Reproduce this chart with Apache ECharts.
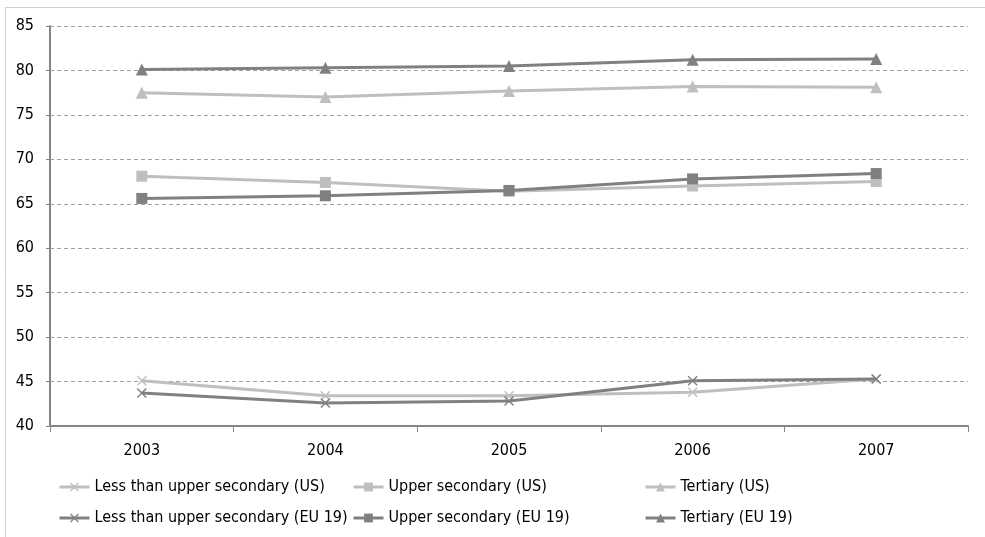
<!DOCTYPE html>
<html><head><meta charset="utf-8">
<script src="https://cdn.jsdelivr.net/npm/echarts@6/dist/echarts.min.js"></script>
<style>html,body{margin:0;padding:0;background:#fff}#c{width:985px;height:537px}</style>
</head><body><div id="c"></div>
<script>
const years = ['2003','2004','2005','2006','2007'];
const lessUS = [45.1, 43.4, 43.4, 43.8, 45.3];
const upperUS = [68.1, 67.4, 66.4, 67.0, 67.5];
const tertUS = [77.5, 77.0, 77.7, 78.2, 78.1];
const lessEU = [43.7, 42.6, 42.8, 45.1, 45.3];
const upperEU = [65.6, 65.9, 66.5, 67.8, 68.4];
const tertEU = [80.1, 80.3, 80.5, 81.2, 81.3];
const names = ['Less than upper secondary (US)','Upper secondary (US)','Tertiary (US)',
  'Less than upper secondary (EU 19)','Upper secondary (EU 19)','Tertiary (EU 19)'];

const LIGHT = '#bfbfbf', DARK = '#808080';
const cross = 'path://M0,1L1,0L5,4L9,0L10,1L6,5L10,9L9,10L5,6L1,10L0,9L4,5Z';
const FONT = '"Liberation Sans Narrow","DejaVu Sans Condensed","Liberation Sans",sans-serif';

function mk(name, data, color, symbol, size) {
  return { name, type: 'line', data, symbol, symbolSize: size, showSymbol: true,
    lineStyle: { color, width: 3 }, itemStyle: { color }, z: color === DARK ? 3 : 2, animation: false };
}
const series = [
  mk(names[0], lessUS, LIGHT, cross, 10),
  mk(names[1], upperUS, LIGHT, 'rect', 11),
  mk(names[2], tertUS, LIGHT, 'triangle', 12),
  mk(names[3], lessEU, DARK, cross, 10),
  mk(names[4], upperEU, DARK, 'rect', 11),
  mk(names[5], tertEU, DARK, 'triangle', 12)
];
const legPos = [[58,478],[352,478],[644,478],[58,509],[352,509],[644,509]];
const legend = names.map((n,i)=>({
  data:[n], left: legPos[i][0], top: legPos[i][1], itemWidth: 30, itemHeight: 11, itemGap: 0,
  padding: 0, textStyle: { fontFamily: FONT, fontSize: 16, lineHeight: 18, color: '#000' },
  lineStyle: { width: 3 },
  selectedMode: false
}));

const chart = echarts.init(document.getElementById('c'), null, { renderer: 'canvas' });
chart.setOption({
  animation: false,
  backgroundColor: '#fff',
  graphic: [{ type: 'rect', shape: { x: 5.5, y: 7.5, width: 1000, height: 540 }, style: { fill: 'none', stroke: '#d0d0d0', lineWidth: 1 }, silent: true }],
  legend,
  grid: { left: 50, right: 17, top: 26, bottom: 111 },
  xAxis: {
    type: 'category', data: years, boundaryGap: true,
    axisLine: { lineStyle: { color: '#868686', width: 2 } },
    axisTick: { show: true, length: 6, interval: 0, lineStyle: { color: '#868686' } },
    axisLabel: { fontFamily: FONT, fontSize: 16, color: '#000', margin: 17 }
  },
  yAxis: {
    type: 'value', min: 40, max: 85, interval: 5,
    axisLine: { show: true, lineStyle: { color: '#868686', width: 2 } },
    axisTick: { show: true, length: 4, lineStyle: { color: '#868686' } },
    axisLabel: { fontFamily: FONT, fontSize: 16, color: '#000', margin: 16 },
    splitLine: { lineStyle: { color: '#a0a0a0', type: [4,3], width: 1 } }
  },
  series
});
</script></body></html>
